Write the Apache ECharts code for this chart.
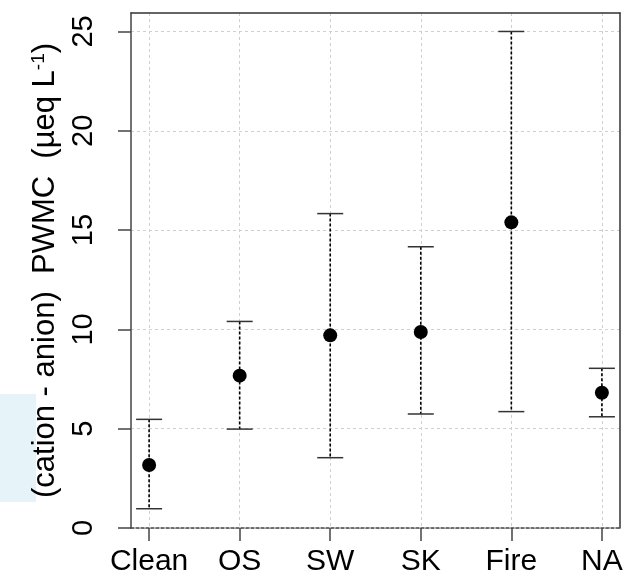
<!DOCTYPE html>
<html>
<head>
<meta charset="utf-8">
<script src="https://cdn.jsdelivr.net/npm/echarts@6/dist/echarts.min.js"></script>
<style>
  html, body { margin: 0; padding: 0; background: #fff; }
  #main { width: 641px; height: 583px; }
</style>
</head>
<body>
<div id="main"></div>
<script>
// data
var categories = ['Clean', 'OS', 'SW', 'SK', 'Fire', 'NA'];
var means = [3.17, 7.67, 9.70, 9.87, 15.39, 6.81];
var lows  = [0.97, 4.98, 3.54, 5.74, 5.86, 5.60];
var highs = [5.47, 10.40, 15.83, 14.16, 25.0, 8.04];
var yTicks = [0, 5, 10, 15, 20, 25];
var xPos = [1, 2, 3, 4, 5, 6];

var chart = echarts.init(document.getElementById('main'));
var FONT = '"Liberation Sans", Arial, sans-serif';

var pts = categories.map(function (c, i) { return [xPos[i], means[i]]; });
var bars = categories.map(function (c, i) { return [xPos[i], lows[i], highs[i]]; });

var option = {
  animation: false,
  textStyle: { fontFamily: FONT },
  graphic: [{
    type: 'rect', left: 0, top: 394, z: -10,
    shape: { width: 36, height: 108 },
    style: { fill: '#e6f3f9' }
  }],
  grid: { left: 131, right: 21, top: 13, bottom: 55 },
  xAxis: [{
    type: 'value', min: 0.8, max: 6.2, position: 'bottom',
    axisLine: { show: true, lineStyle: { color: '#444', width: 1.5, type: [3, 2] } },
    axisTick: { show: true, customValues: xPos, length: 13, inside: false,
      lineStyle: { color: '#444', width: 1.5 } },
    axisLabel: { customValues: xPos, margin: 19, fontSize: 30, color: '#000',
      formatter: function (v) { return categories[Math.round(v) - 1]; } },
    splitLine: { show: true, lineStyle: { color: '#d0d0d0', type: [3, 3], width: 1 } }
  }, {
    type: 'value', min: 0.8, max: 6.2, position: 'top',
    axisLine: { show: true, onZero: false, lineStyle: { color: '#333', width: 1.5 } },
    axisTick: { show: false }, axisLabel: { show: false }, splitLine: { show: false }
  }],
  yAxis: [{
    type: 'value', min: 0, max: 25.93, position: 'left',
    name: '(cation - anion)  PWMC  (µeq L{sup|-1})',
    nameLocation: 'middle', nameGap: 70,
    nameTextStyle: {
      fontSize: 31, color: '#000', fontFamily: FONT,
      rich: { sup: { fontSize: 19, color: '#000', padding: [0, 0, 13, 0], fontFamily: FONT } }
    },
    axisLine: { show: true, onZero: false, lineStyle: { color: '#444', width: 1.5 } },
    axisTick: { show: true, customValues: yTicks, length: 13, inside: false,
      lineStyle: { color: '#444', width: 1.5 } },
    axisLabel: { customValues: yTicks, rotate: 90, margin: 33, fontSize: 29, color: '#000' },
    splitLine: { show: true, lineStyle: { color: '#d0d0d0', type: [3, 3], width: 1 } }
  }, {
    type: 'value', min: 0, max: 25.93, position: 'right',
    axisLine: { show: true, onZero: false, lineStyle: { color: '#333', width: 1.5 } },
    axisTick: { show: false }, axisLabel: { show: false }, splitLine: { show: false }
  }],
  series: [{
    type: 'custom',
    xAxisIndex: 0, yAxisIndex: 0,
    data: bars,
    z: 3,
    renderItem: function (params, api) {
      var top = api.coord([api.value(0), api.value(2)]);
      var bot = api.coord([api.value(0), api.value(1)]);
      var hw = 13;
      return {
        type: 'group',
        children: [{
          type: 'line',
          shape: { x1: top[0], y1: top[1], x2: bot[0], y2: bot[1] },
          style: { stroke: '#000', lineWidth: 1.6, lineDash: [3, 2] }
        }, {
          type: 'line',
          shape: { x1: top[0] - hw, y1: top[1], x2: top[0] + hw, y2: top[1] },
          style: { stroke: '#333', lineWidth: 1.5 }
        }, {
          type: 'line',
          shape: { x1: bot[0] - hw, y1: bot[1], x2: bot[0] + hw, y2: bot[1] },
          style: { stroke: '#333', lineWidth: 1.5 }
        }]
      };
    }
  }, {
    type: 'scatter',
    xAxisIndex: 0, yAxisIndex: 0,
    data: pts,
    symbol: 'circle', symbolSize: 14,
    itemStyle: { color: '#000', opacity: 1 },
    z: 4
  }]
};

chart.setOption(option);
window.onresize = function () { chart.resize(); };
</script>
</body>
</html>
